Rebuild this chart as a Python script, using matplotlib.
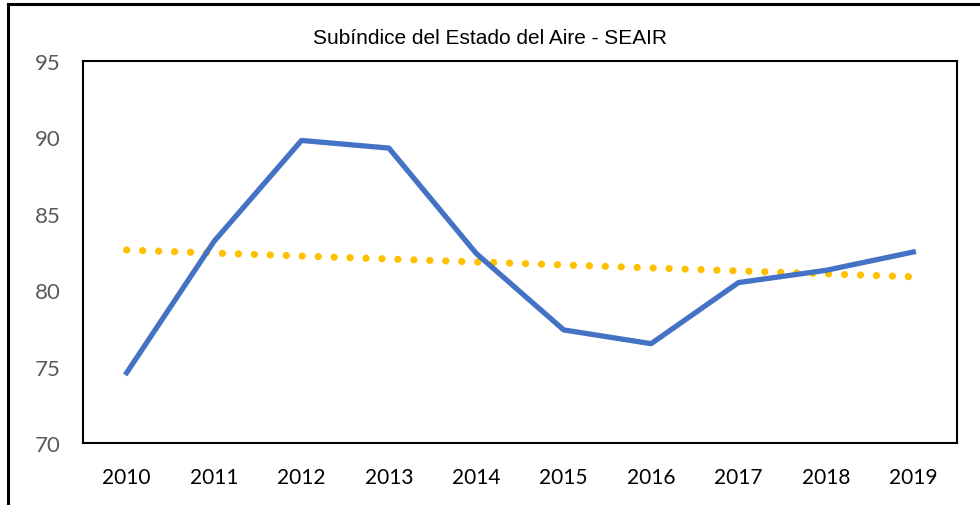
import numpy as np
import matplotlib
matplotlib.use('Agg')
import matplotlib.pyplot as plt
from matplotlib.patches import Rectangle

### Datos
anios = ['2010', '2011', '2012', '2013', '2014', '2015', '2016', '2017', '2018', '2019']
seair = [74.6, 83.2, 89.8, 89.3, 82.4, 77.4, 76.5, 80.5, 81.3, 82.5]
y_ticks = [70, 75, 80, 85, 90, 95]

# Tendencia lineal (como en Excel)
x = np.arange(len(anios))
pend, corte = np.polyfit(x, seair, 1)
tendencia = pend * x + corte

### Grafico
fig = plt.figure(figsize=(9.8, 5.06), dpi=100)
ax = fig.add_axes([83/980, 1 - 444/506, (957 - 83)/980, (444 - 62)/506])

ax.plot(x, seair, color='#4472C4', lw=3.8, solid_joinstyle='round', zorder=3)
ax.plot(x, tendencia, color='#FFC000', lw=5.2, linestyle=(0, (0.01, 2.2)),
        dash_capstyle='round', zorder=2)

ax.set_xlim(-0.5, len(anios) - 0.5)
ax.set_ylim(70, 95)
ax.set_yticks(y_ticks)
ax.set_xticks(x)
ax.set_xticklabels(anios, fontsize=15, family='Lato', color='black')
ax.set_yticklabels([str(v) for v in y_ticks], fontsize=16, family='Lato', color='#595959')
ax.tick_params(length=0)
ax.tick_params(axis='x', pad=17)
ax.tick_params(axis='y', pad=16)
for s in ax.spines.values():
    s.set_linewidth(1.5)
    s.set_color('black')

fig.text(0.5, 1 - 38/506, 'Subíndice del Estado del Aire - SEAIR',
         ha='center', va='center', fontsize=15, family='Liberation Sans')

# Borde exterior del grafico
fig.patches.append(Rectangle((8/980, -0.1), 1.2, 1 - 5/506 + 0.1,
                             transform=fig.transFigure, fill=False,
                             edgecolor='black', lw=2.2))

fig.savefig('out.png', dpi=100)
